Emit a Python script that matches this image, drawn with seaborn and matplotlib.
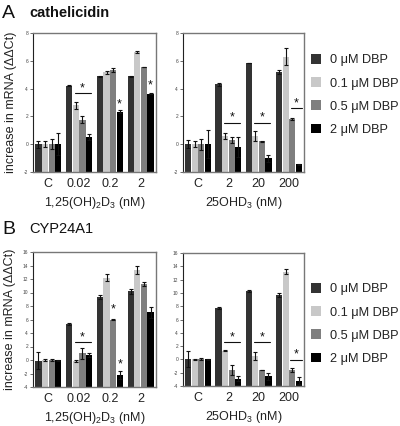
import matplotlib
matplotlib.use("Agg")
import matplotlib.pyplot as plt
import seaborn as sns
import pandas as pd
import numpy as np

# ---------------- data ----------------
dbp_levels = ["0 μM DBP", "0.1 μM DBP", "0.5 μM DBP", "2 μM DBP"]
palette = ["#333333", "#c8c8c8", "#7f7f7f", "#000000"]

cats_125 = ["C", "0.02", "0.2", "2"]
cats_25 = ["C", "2", "20", "200"]

# cathelicidin, 1,25(OH)2D3 ; rows = category, cols = DBP level
cath_125_vals = [[0.0, 0.0, 0.0, 0.0],
                 [4.22, 2.8, 1.76, 0.5],
                 [4.88, 5.17, 5.36, 2.34],
                 [4.88, 6.63, 5.56, 3.64]]
cath_125_err = [[0.25, 0.2, 0.35, 0.8],
                [0.05, 0.25, 0.25, 0.2],
                [0.02, 0.1, 0.15, 0.1],
                [0.05, 0.1, 0.02, 0.05]]
# cathelicidin, 25OHD3
cath_25_vals = [[0.0, 0.0, 0.0, 0.0],
                [4.32, 0.6, 0.32, -0.2],
                [5.85, 0.6, 0.2, -1.0],
                [5.2, 6.3, 1.8, -1.45]]
cath_25_err = [[0.3, 0.2, 0.4, 1.0],
               [0.1, 0.2, 0.2, 0.7],
               [0.02, 0.35, 0.02, 0.25],
               [0.15, 0.6, 0.05, 0.05]]
# CYP24A1, 1,25(OH)2D3
cyp_125_vals = [[-0.1, 0.0, 0.0, -0.05],
                [5.4, -0.15, 1.0, 0.75],
                [9.4, 12.2, 6.0, -2.25],
                [10.2, 13.3, 11.3, 7.05]]
cyp_125_err = [[1.3, 0.1, 0.2, 0.1],
               [0.15, 0.1, 0.8, 0.35],
               [0.3, 0.5, 0.05, 0.6],
               [0.35, 0.6, 0.3, 0.8]]
# CYP24A1, 25OHD3
cyp_25_vals = [[0.0, 0.0, 0.0, 0.0],
               [7.7, 1.3, -1.6, -2.9],
               [10.3, 0.55, -1.6, -2.55],
               [9.7, 13.2, -1.6, -3.2]]
cyp_25_err = [[1.2, 0.1, 0.15, 0.05],
              [0.15, 0.05, 0.8, 0.4],
              [0.2, 0.6, 0.05, 0.5],
              [0.3, 0.4, 0.3, 0.5]]

# significance marks: (category index, x0, x1, line y or None, star x offset, star y)
sig_cath_125 = [(1, -0.15, 0.38, 3.66, 0.11, 4.0), (2, None, None, None, 0.3, 2.85), (3, None, None, None, 0.3, 4.25)]
sig_cath_25 = [(1, -0.15, 0.38, 1.55, 0.11, 1.9), (2, -0.15, 0.38, 1.55, 0.11, 1.9), (3, 0.08, 0.43, 2.6, 0.25, 2.95)]
sig_cyp_125 = [(1, -0.15, 0.38, 2.7, 0.11, 3.4), (2, None, None, None, 0.1, 7.5), (2, None, None, None, 0.32, -0.6)]
sig_cyp_25 = [(1, -0.15, 0.38, 2.55, 0.11, 3.3), (2, -0.15, 0.38, 2.55, 0.11, 3.3), (3, 0.05, 0.43, -0.05, 0.24, 0.7)]

FONT = "Liberation Sans"
plt.rcParams["font.family"] = [FONT, "DejaVu Sans"]
sns.set_style("white")
plt.rcParams["font.family"] = [FONT, "DejaVu Sans"]
plt.rcParams["mathtext.fontset"] = "custom"
plt.rcParams["mathtext.rm"] = FONT

fig = plt.figure(figsize=(4.0, 4.26), dpi=100)
W, H = 400.0, 426.0


def add_ax(x0, x1, ytop, ybot):
    return fig.add_axes([x0 / W, 1 - ybot / H, (x1 - x0) / W, (ybot - ytop) / H])


def draw_panel(ax, cats, vals, errs, ylim, yticks, xlabel, sigs, show_ylabel):
    rows = []
    for ci, c in enumerate(cats):
        for di, d in enumerate(dbp_levels):
            rows.append(dict(cat=c, dbp=d, value=vals[ci][di]))
    df = pd.DataFrame(rows)
    sns.barplot(data=df, x="cat", y="value", hue="dbp", hue_order=dbp_levels,
                order=cats, palette=palette, errorbar=None, width=0.86, gap=0.04,
                legend=False, ax=ax, saturation=1, linewidth=0)
    ymin = ylim[0]
    bar_conts = list(ax.containers)
    for di, cont in enumerate(bar_conts):
        xs = []
        ys = []
        for ci, p in enumerate(cont.patches):
            top = p.get_y() + p.get_height()
            p.set_y(ymin)
            p.set_height(top - ymin)
            xs.append(p.get_x() + p.get_width() / 2)
            ys.append(top)
        ax.errorbar(xs, ys, yerr=[errs[ci][di] for ci in range(len(cats))], fmt="none",
                    ecolor="#111111", elinewidth=0.8, capsize=1.6, capthick=0.8, zorder=3)
    for (ci, x0, x1, ly, sx, sy) in sigs:
        if x0 is not None:
            ax.plot([ci + x0, ci + x1], [ly, ly], color="#111111", lw=0.8)
        ax.text(ci + sx, sy, "*", ha="center", va="center", fontsize=9, color="#111111")
    ax.set_ylim(*ylim)
    ax.set_xlim(-0.5, 3.5)
    ax.set_yticks(yticks)
    ax.set_yticklabels([str(t) for t in yticks], fontsize=3.5, color="#444444")
    ax.tick_params(axis="y", length=2, width=0.5, pad=1.5, direction="out", left=True, color="#333333")
    ax.tick_params(axis="x", length=0, pad=4, labelsize=9, labelcolor="#222222")
    ax.set_xlabel(xlabel, fontsize=9, color="#222222", labelpad=4)
    if show_ylabel:
        ax.set_ylabel("increase in mRNA (ΔΔCt)", fontsize=9, color="#222222", labelpad=5)
    else:
        ax.set_ylabel("")
    for s in ["top", "right", "bottom"]:
        ax.spines[s].set_color("#777777")
        ax.spines[s].set_linewidth(1.0)
    ax.spines["left"].set_color("#222222")
    ax.spines["left"].set_linewidth(0.8)


xl_125 = "1,25(OH)$_2$D$_3$ (nM)"
xl_25 = "25OHD$_3$ (nM)"

axA1 = add_ax(33, 156, 33, 172)
axA2 = add_ax(183, 304, 33, 172)
axB1 = add_ax(33, 156, 252, 387)
axB2 = add_ax(183, 304, 253, 386)

draw_panel(axA1, cats_125, cath_125_vals, cath_125_err, (-2, 8), [-2, 0, 2, 4, 6, 8], xl_125, sig_cath_125, True)
draw_panel(axA2, cats_25, cath_25_vals, cath_25_err, (-2, 8), [-2, 0, 2, 4, 6, 8], xl_25, sig_cath_25, False)
draw_panel(axB1, cats_125, cyp_125_vals, cyp_125_err, (-4, 16), list(range(-4, 17, 2)), xl_125, sig_cyp_125, True)
draw_panel(axB2, cats_25, cyp_25_vals, cyp_25_err, (-4, 16), list(range(-4, 17, 2)), xl_25, sig_cyp_25, False)

# legends
for ax, ytop in [(axA2, 54), (axB2, 283)]:
    handles = [plt.Rectangle((0, 0), 1, 1, facecolor=c, edgecolor="none") for c in palette]
    fig.legend(handles, dbp_levels, loc="upper left", bbox_to_anchor=(311 / W, 1 - ytop / H),
               frameon=False, fontsize=9.2, handlelength=0.8, handleheight=0.8,
               handletextpad=0.7, labelspacing=0.85, borderpad=0, borderaxespad=0,
               labelcolor="#222222")

# panel titles
fig.text(2 / W, 1 - 13 / H, "A", fontsize=14, va="center", ha="left", color="#111111")
fig.text(29 / W, 1 - 13 / H, "cathelicidin", fontsize=10.5, fontweight="bold", va="center", ha="left", color="#111111")
fig.text(2 / W, 1 - 229 / H, "B", fontsize=14, va="center", ha="left", color="#111111")
fig.text(29 / W, 1 - 229 / H, "CYP24A1", fontsize=10.5, va="center", ha="left", color="#111111")

fig.savefig("out.png", dpi=100)
